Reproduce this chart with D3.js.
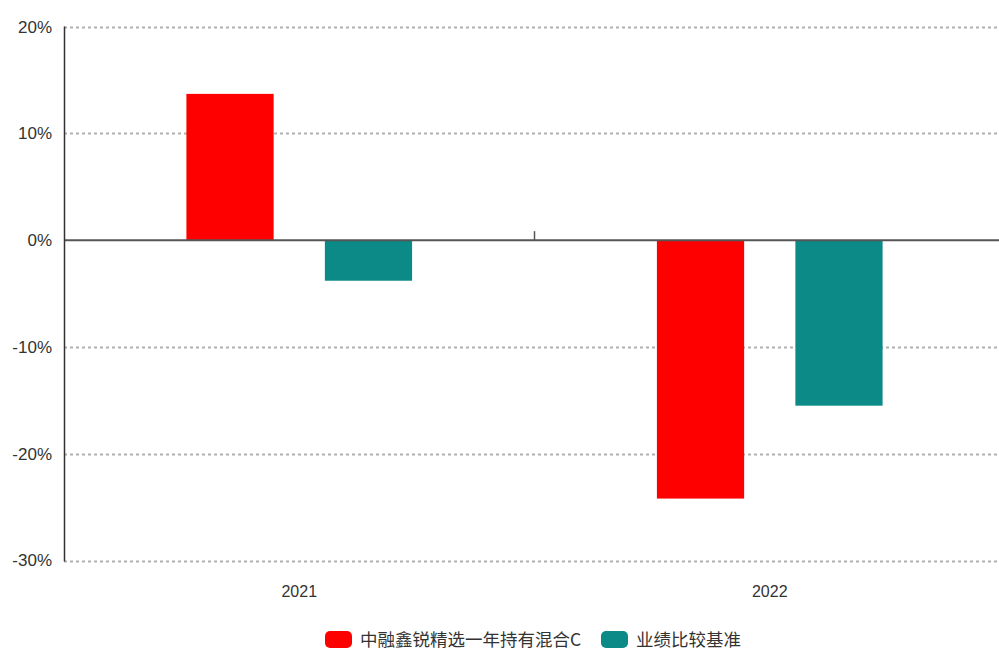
<!DOCTYPE html>
<html><head><meta charset="utf-8">
<script src="https://cdn.jsdelivr.net/npm/d3@7"></script>
<style>html,body{margin:0;padding:0;background:#fff;}svg{display:block;}</style>
</head><body>
<svg id="c" width="999" height="655"></svg>
<script>
const categories = ["2021", "2022"];
const seriesNames = ["中融鑫锐精选一年持有混合C", "业绩比较基准"];
const fundValues = [13.7, -24.2];
const benchValues = [-3.8, -15.5];
const yTicks = [20, 10, 0, -10, -20, -30];
const colors = ["#ff0000", "#0b8a87"];

const svg = d3.select("#c");
const font = "'Liberation Sans', Arial, sans-serif";
const plotLeft = 64, plotRight = 1005, plotTop = 26.6, plotBottom = 560.5;

const y = d3.scaleLinear().domain([-30, 20]).range([plotBottom, plotTop]);
const x0 = d3.scaleBand().domain(categories).range([plotLeft, plotRight]);
const x1 = d3.scaleBand().domain([0, 1]).range([0, x0.bandwidth()]).paddingInner(0.37).paddingOuter(0.884);

// grid lines
svg.append("g").selectAll("line").data(yTicks.filter(d => d !== 0)).join("line")
  .attr("x1", plotLeft).attr("x2", 999)
  .attr("y1", d => Math.round(y(d)) + 0.5).attr("y2", d => Math.round(y(d)) + 0.5)
  .attr("stroke", "#b0b0b0").attr("stroke-width", 2).attr("stroke-dasharray", "3,3");

// bars
const data = categories.map((c, i) => ({ c, vals: [fundValues[i], benchValues[i]] }));
const g = svg.append("g");
data.forEach(d => {
  g.selectAll(null).data(d.vals).join("rect")
    .attr("x", (v, j) => x0(d.c) + x1(j))
    .attr("width", x1.bandwidth())
    .attr("y", v => y(Math.max(0, v)))
    .attr("height", v => Math.abs(y(v) - y(0)))
    .attr("fill", (v, j) => colors[j]);
});

// zero line
svg.append("line").attr("x1", plotLeft).attr("x2", 999).attr("y1", y(0)).attr("y2", y(0))
  .attr("stroke", "#555").attr("stroke-width", 2);
// middle tick
svg.append("line").attr("x1", x0("2022")).attr("x2", x0("2022"))
  .attr("y1", y(0) - 9).attr("y2", y(0)).attr("stroke", "#555").attr("stroke-width", 1.5);

// y axis line
svg.append("line").attr("x1", plotLeft + 0.5).attr("x2", plotLeft + 0.5).attr("y1", plotTop).attr("y2", plotBottom + 1)
  .attr("stroke", "#333").attr("stroke-width", 1.5);

// y labels
svg.append("g").selectAll("text").data(yTicks).join("text")
  .attr("x", 52).attr("y", d => y(d)).attr("dy", "0.35em")
  .attr("text-anchor", "end").attr("font-family", font).attr("font-size", 17)
  .attr("fill", "#333")
  .text(d => d + "%");

// x labels
svg.append("g").selectAll("text").data(categories).join("text")
  .attr("x", d => x0(d) + x0.bandwidth() / 2).attr("y", 597)
  .attr("text-anchor", "middle").attr("font-family", font).attr("font-size", 16)
  .attr("fill", "#333").text(d => d);

// legend
const legX = [325, 601];
const leg = svg.append("g");
seriesNames.forEach((n, i) => {
  leg.append("rect").attr("x", legX[i]).attr("y", 631).attr("width", 27).attr("height", 17)
    .attr("rx", 5).attr("fill", colors[i]);
  leg.append("text").attr("x", legX[i] + 35).attr("y", 646)
    .attr("font-family", "'Noto Sans CJK SC', sans-serif").attr("font-size", 17.5)
    .attr("fill", "#333").text(n);
});
</script>
</body></html>
